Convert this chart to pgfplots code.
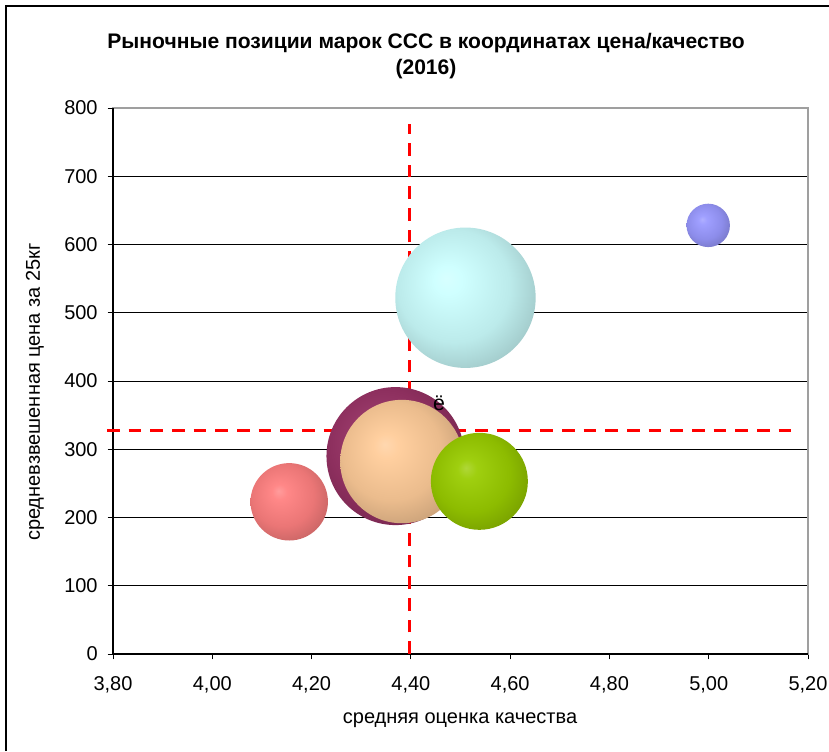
\documentclass[border=0pt]{standalone}
\usepackage{pgfplots}
\pgfplotsset{compat=1.18}
\usepackage{pgfplotstable}
\usepackage{fontspec}
\setmainfont{Liberation Sans}

\definecolor{bc0}{HTML}{FF8080}
\definecolor{bc1}{HTML}{993366}
\definecolor{bc2}{HTML}{FFCC99}
\definecolor{bc3}{HTML}{CCFFFF}
\definecolor{bc4}{HTML}{99CC00}
\definecolor{bc5}{HTML}{9999FF}
\colorlet{bubblecol}{bc0}
\pgfdeclareradialshading[bubblecol]{bubble}{\pgfqpoint{-7bp}{7bp}}{%
  color(0bp)=(bubblecol!78!white);
  color(5bp)=(bubblecol!94!white);
  color(20bp)=(bubblecol!92!black);
  color(34bp)=(bubblecol!74!black);
  color(50bp)=(bubblecol!74!black)}
\pgfdeclareplotmark{bubble}{%
  \pgfpathcircle{\pgfpointorigin}{\pgfplotmarksize}%
  \pgfshadepath{bubble}{0}%
  \pgfusepath{}}

% x = average quality, y = weighted price per 25 kg, r = bubble radius (px), c = colour index
\pgfplotstableread{
x      y    r     c
4.155  223  38.7  0
4.369  290  69.0  1
4.382  282  61.7  2
4.510  522  70.2  3
4.538  253  48.5  4
4.999  628  21.7  5
}\bubbles

\begin{document}
\begin{tikzpicture}[x=0.75pt,y=0.75pt]
\useasboundingbox (0,0) rectangle (829,751);
\draw[line width=1.2pt] (6,0) -- (6,745) -- (829,745);
\begin{axis}[
  at={(84.75pt,72.75pt)}, anchor=south west,
  scale only axis, width=521.25pt, height=409.5pt,
  xmin=3.8, xmax=5.2, ymin=0, ymax=800,
  xtick={3.8,4.0,4.2,4.4,4.6,4.8,5.0,5.2},
  ytick={0,100,200,300,400,500,600,700,800},
  xtick pos=left, ytick pos=left,
  tick align=outside, major tick length=4pt,
  tick style={black, line width=0.75pt},
  ymajorgrids, grid style={black, line width=0.75pt},
  axis line style={draw=gray!75, line width=1.2pt},
  clip=false,
  ticklabel style={font=\fontsize{15}{18}\selectfont},
  /pgf/number format/assume math mode=true,
  xticklabel style={/pgf/number format/.cd, use comma, fixed, fixed zerofill, precision=2},
  yticklabel style={/pgf/number format/.cd, fixed, precision=0},
  xticklabel shift=9pt, yticklabel shift=4pt,
]
\draw[black, line width=1pt] (rel axis cs:0,1) -- (rel axis cs:0,0) -- (rel axis cs:1,0);
\addplot[scatter, only marks, mark=bubble,
  visualization depends on={\thisrow{r} \as \rpx},
  visualization depends on={\thisrow{c} \as \cidx},
  scatter/@pre marker code/.code={%
    \begin{scope}%
    \pgfmathtruncatemacro\ci{\cidx}%
    \colorlet{bubblecol}{bc\ci}%
    \pgfsetplotmarksize{0.75pt*\rpx}},
  scatter/@post marker code/.code={\end{scope}},
] table[x=x, y=y] {\bubbles};
\addplot[red, line width=2.25pt, dash pattern=on 9.5pt off 6.75pt, no marks]
  coordinates {(4.398,0) (4.398,776)};
\addplot[red, line width=2.25pt, dash pattern=on 9.5pt off 6.75pt, no marks]
  coordinates {(3.788,327) (5.181,327)};
\coordinate (elab) at (axis cs:4.457,368);
\end{axis}
\node[font=\fontsize{16}{18}\selectfont, text=black] at (elab) {ё};
\node[font=\bfseries\fontsize{15.8}{20}\selectfont, align=center] at (426,695)
  {Рыночные позиции марок ССС в координатах цена/качество\\(2016)};
\node[font=\fontsize{15}{18}\selectfont] at (460,31) {средняя оценка качества};
\node[font=\fontsize{15}{18}\selectfont, rotate=90] at (35,359) {средневзвешенная цена за 25кг};
\end{tikzpicture}
\end{document}
